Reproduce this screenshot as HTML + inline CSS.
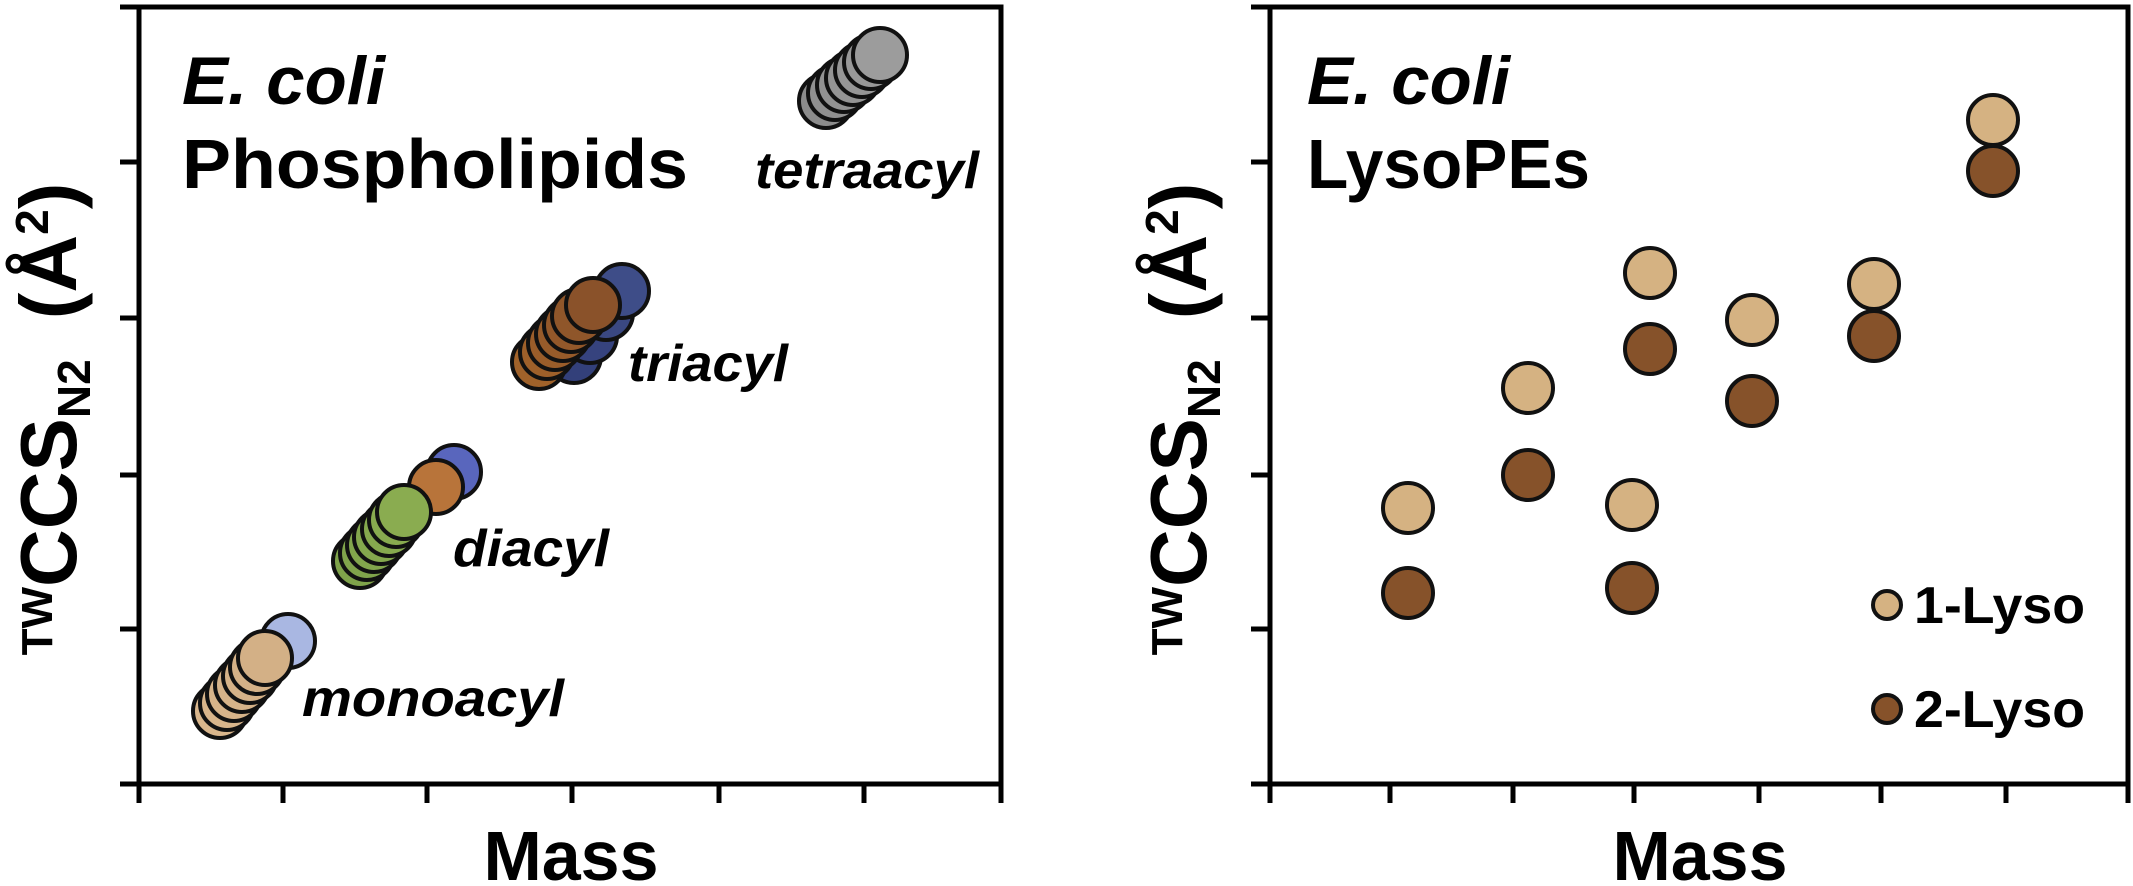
<!DOCTYPE html>
<html><head><meta charset="utf-8"><style>
html,body{margin:0;padding:0;background:#fff;}
svg{display:block;}
text{font-family:"Liberation Sans",Arial,sans-serif;font-weight:bold;fill:#000;}
</style></head><body>
<svg width="2133" height="886" viewBox="0 0 2133 886" xmlns="http://www.w3.org/2000/svg">
<g stroke="#000" stroke-width="5" fill="none">
<rect x="139" y="7" width="862" height="777"/>
<line x1="120" y1="7" x2="139" y2="7"/><line x1="120" y1="162" x2="139" y2="162"/><line x1="120" y1="318" x2="139" y2="318"/><line x1="120" y1="475" x2="139" y2="475"/><line x1="120" y1="629" x2="139" y2="629"/><line x1="120" y1="784" x2="139" y2="784"/>
<line x1="139" y1="784" x2="139" y2="803"/><line x1="283" y1="784" x2="283" y2="803"/><line x1="427" y1="784" x2="427" y2="803"/><line x1="572" y1="784" x2="572" y2="803"/><line x1="719" y1="784" x2="719" y2="803"/><line x1="864" y1="784" x2="864" y2="803"/><line x1="1001" y1="784" x2="1001" y2="803"/>
<rect x="1270" y="7" width="858" height="777"/>
<line x1="1251" y1="7" x2="1270" y2="7"/><line x1="1251" y1="162" x2="1270" y2="162"/><line x1="1251" y1="318" x2="1270" y2="318"/><line x1="1251" y1="475" x2="1270" y2="475"/><line x1="1251" y1="629" x2="1270" y2="629"/><line x1="1251" y1="784" x2="1270" y2="784"/>
<line x1="1270" y1="784" x2="1270" y2="803"/><line x1="1390" y1="784" x2="1390" y2="803"/><line x1="1513" y1="784" x2="1513" y2="803"/><line x1="1634" y1="784" x2="1634" y2="803"/><line x1="1759" y1="784" x2="1759" y2="803"/><line x1="1881" y1="784" x2="1881" y2="803"/><line x1="2006" y1="784" x2="2006" y2="803"/><line x1="2128" y1="784" x2="2128" y2="803"/>
</g>
<g stroke="#111" stroke-width="4">
<circle cx="826" cy="101" r="27" fill="#8c8c8c"/><circle cx="835" cy="93" r="27" fill="#909090"/><circle cx="844" cy="85" r="27" fill="#929292"/><circle cx="853" cy="78" r="27" fill="#949494"/><circle cx="862" cy="70" r="27" fill="#969696"/><circle cx="871" cy="62" r="27" fill="#989898"/><circle cx="880" cy="55" r="27" fill="#9c9c9c"/>
<circle cx="574" cy="356" r="27" fill="#33407a"/><circle cx="590" cy="336" r="27" fill="#36437e"/><circle cx="606" cy="313" r="27" fill="#3a4882"/><circle cx="622" cy="291" r="27" fill="#3e4d88"/>
<circle cx="539" cy="362" r="27" fill="#a0622a"/><circle cx="547" cy="352" r="27" fill="#9e602a"/><circle cx="555" cy="343" r="27" fill="#9a5d2a"/><circle cx="563" cy="334" r="27" fill="#975b2a"/><circle cx="571" cy="325" r="27" fill="#93582a"/><circle cx="579" cy="316" r="27" fill="#8f562a"/><circle cx="593" cy="305" r="27" fill="#8a522a"/>
<circle cx="454" cy="472" r="27" fill="#5966bd"/><circle cx="436" cy="487" r="27" fill="#b8743a"/>
<circle cx="360" cy="561" r="27" fill="#7fa34a"/><circle cx="367" cy="553" r="27" fill="#80a44b"/><circle cx="374" cy="545" r="27" fill="#82a64c"/><circle cx="381" cy="537" r="27" fill="#84a84d"/><circle cx="389" cy="529" r="27" fill="#86a94e"/><circle cx="396" cy="520" r="27" fill="#88aa4f"/><circle cx="404" cy="512" r="27" fill="#8aac50"/>
<circle cx="288" cy="641" r="27" fill="#a9b7e2"/>
<circle cx="220" cy="711" r="27" fill="#d9b68c"/><circle cx="227" cy="703" r="27" fill="#d8b58b"/><circle cx="234" cy="694" r="27" fill="#d7b48a"/><circle cx="242" cy="685" r="27" fill="#d6b389"/><circle cx="250" cy="676" r="27" fill="#d5b288"/><circle cx="257" cy="667" r="27" fill="#d4b187"/><circle cx="265" cy="658" r="27" fill="#d3b086"/>
</g>
<g stroke="#111" stroke-width="4">
<circle cx="1408" cy="508" r="25" fill="#d5b282"/><circle cx="1408" cy="593" r="25" fill="#86522a"/>
<circle cx="1528" cy="388" r="25" fill="#d5b282"/><circle cx="1528" cy="475" r="25" fill="#86522a"/>
<circle cx="1632" cy="505" r="25" fill="#d5b282"/><circle cx="1632" cy="588" r="25" fill="#86522a"/>
<circle cx="1650" cy="273" r="25" fill="#d5b282"/><circle cx="1650" cy="349" r="25" fill="#86522a"/>
<circle cx="1752" cy="320" r="25" fill="#d5b282"/><circle cx="1752" cy="401" r="25" fill="#86522a"/>
<circle cx="1874" cy="284" r="25" fill="#d5b282"/><circle cx="1874" cy="336" r="25" fill="#86522a"/>
<circle cx="1993" cy="120" r="25" fill="#d5b282"/><circle cx="1993" cy="171" r="25" fill="#86522a"/>
<circle cx="1887" cy="605" r="14" fill="#d5b282"/><circle cx="1887" cy="709" r="14" fill="#86522a"/>
</g>
<text x="182" y="104" font-size="68" font-style="italic" textLength="203" lengthAdjust="spacingAndGlyphs">E. coli</text>
<text x="182" y="188" font-size="70" textLength="506" lengthAdjust="spacingAndGlyphs">Phospholipids</text>
<text x="755" y="188" font-size="52" font-style="italic" textLength="224" lengthAdjust="spacingAndGlyphs">tetraacyl</text>
<text x="628" y="381" font-size="52" font-style="italic" textLength="160" lengthAdjust="spacingAndGlyphs">triacyl</text>
<text x="453" y="566" font-size="52" font-style="italic" textLength="156" lengthAdjust="spacingAndGlyphs">diacyl</text>
<text x="302" y="716" font-size="52" font-style="italic" textLength="262" lengthAdjust="spacingAndGlyphs">monoacyl</text>
<text x="571" y="880" font-size="70" text-anchor="middle">Mass</text>
<text transform="translate(76,419) rotate(-90)" text-anchor="middle"><tspan font-size="44" dy="-24">TW</tspan><tspan font-size="80" dy="24">CCS</tspan><tspan font-size="46" dy="14">N2</tspan><tspan font-size="80" dy="-14" dx="40">(Å</tspan><tspan font-size="46" dy="-28">2</tspan><tspan font-size="80" dy="28">)</tspan></text>
<text x="1307" y="104" font-size="68" font-style="italic" textLength="203" lengthAdjust="spacingAndGlyphs">E. coli</text>
<text x="1307" y="188" font-size="70" textLength="283" lengthAdjust="spacingAndGlyphs">LysoPEs</text>
<text x="1914" y="623" font-size="52" textLength="171" lengthAdjust="spacingAndGlyphs">1-Lyso</text>
<text x="1914" y="727" font-size="52" textLength="171" lengthAdjust="spacingAndGlyphs">2-Lyso</text>
<text x="1700" y="880" font-size="70" text-anchor="middle">Mass</text>
<text transform="translate(1206,419) rotate(-90)" text-anchor="middle"><tspan font-size="44" dy="-24">TW</tspan><tspan font-size="80" dy="24">CCS</tspan><tspan font-size="46" dy="14">N2</tspan><tspan font-size="80" dy="-14" dx="40">(Å</tspan><tspan font-size="46" dy="-28">2</tspan><tspan font-size="80" dy="28">)</tspan></text>
</svg>
</body></html>
